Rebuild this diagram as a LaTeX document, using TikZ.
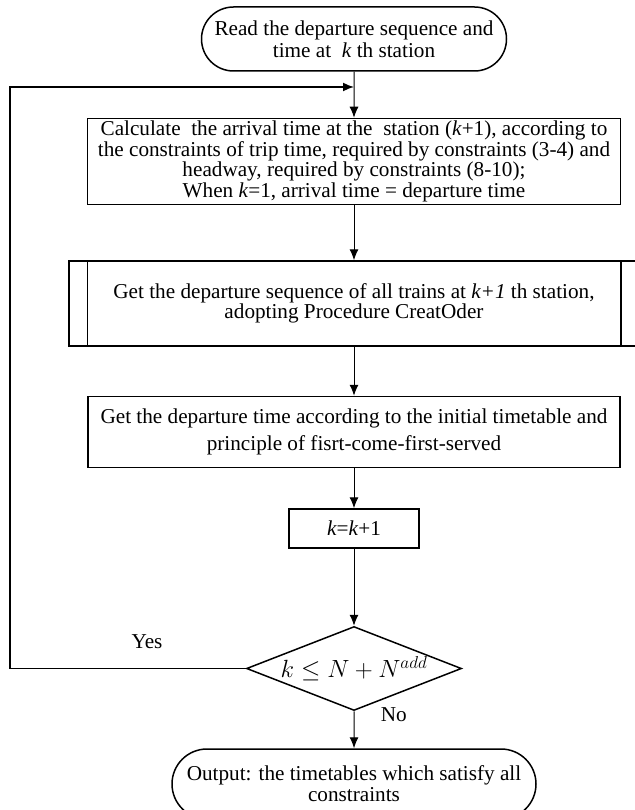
\documentclass[tikz,border=0pt]{standalone}
\usepackage{fontspec}
\setmainfont{Liberation Serif}
\usepackage{amsmath}
\usetikzlibrary{arrows.meta, shapes.geometric, shapes.misc, positioning}

\begin{document}
\begin{tikzpicture}[x=1pt, y=1pt,
        every node/.style={font=\fontsize{21.2}{22}\selectfont},
        terminal/.style={draw, rounded rectangle, line width=1.5pt, align=center, inner sep=0pt},
        process/.style={draw, rectangle, line width=1.5pt, align=center, inner sep=0pt},
        decision/.style={draw, diamond, line width=1.5pt, inner sep=0pt, aspect=2.5},
        flow/.style={-{Latex[length=11pt,width=9pt]}, line width=1pt}]
    \useasboundingbox (0,0) rectangle (634,-810);
    \node[terminal, minimum width=305pt, minimum height=64pt] (read) at (354,-39) {Read the departure sequence and\\time at \ \textit{k} th station};
    \node[process, minimum width=533pt, minimum height=86pt, font=\fontsize{21.2}{20.5}\selectfont] (calc) [below = 46pt of read] {Calculate \ the arrival time at the \ station (\textit{k}+1), according to\\the constraints of trip time, required by constraints (3-4) and\\headway, required by constraints (8-10);\\When \textit{k}=1, arrival time = departure time};
    \node[process, minimum width=570pt, minimum height=85pt, font=\fontsize{21.2}{20.5}\selectfont] (order) [below = 55pt of calc] {Get the departure sequence of all trains at \textit{k+1} th station,\\adopting Procedure CreatOder};
    \node[process, minimum width=532pt, minimum height=71pt, font=\fontsize{21.2}{27}\selectfont] (dep) [below = 49pt of order] {Get the departure time according to the initial timetable and\\principle of fisrt-come-first-served};
    \node[process, minimum width=130pt, minimum height=39pt] (kk) [below = 40pt of dep] {\textit{k}=\textit{k}+1};
    \node[decision, minimum width=215pt, minimum height=84pt, font=\fontsize{27}{30}\selectfont] (cond) [below = 77pt of kk] {$k \le N + N^{add}$};
    \node[terminal, minimum width=364pt, minimum height=70pt, font=\fontsize{21.2}{21}\selectfont] (out) [below = 37pt of cond] {Output: the timetables which satisfy all\\constraints};

    % subroutine bars
    \draw[line width=1.5pt] ([xshift=19pt]order.north west) -- ([xshift=19pt]order.south west);
    \draw[line width=1.5pt] ([xshift=-19pt]order.north east) -- ([xshift=-19pt]order.south east);

    \path[flow] (read) edge (calc);
    \path[flow] (calc) edge (order);
    \path[flow] (order) edge (dep);
    \path[flow] (dep) edge (kk);
    \path[flow] (kk) edge (cond);
    \path[flow] (cond) edge node[right=23pt, pos=0.1] {No} (out);

    % loop back
    \coordinate (turn) at (10,-87);
    \draw[flow, line width=1.6pt] (cond.west) -| (turn) -- (turn -| read.south);
    \node (yes) at (147,-642) {Yes};
\end{tikzpicture}
\end{document}
